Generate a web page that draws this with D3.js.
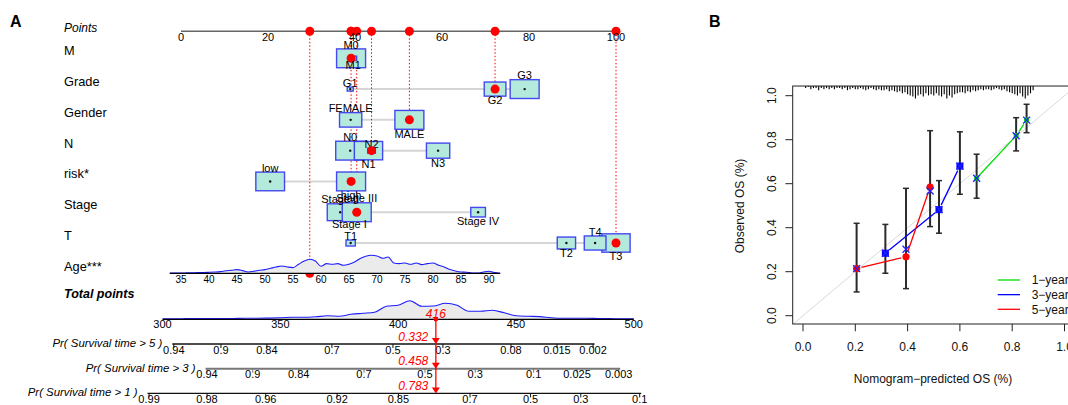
<!DOCTYPE html>
<html>
<head>
<meta charset="utf-8">
<script src="https://cdn.jsdelivr.net/npm/d3@7"></script>
<style>
body{margin:0;background:#fff}
svg{display:block;font-family:"Liberation Sans",Arial,Helvetica,sans-serif}
</style>
</head>
<body>
<svg id="vis" width="1068" height="405"></svg>
<script>
// ---------- A: nomogram ----------
var mCats = ["M0","M1"], mPts = [39.1, 39.6], mFreq = [1, 0.053];
var gradeCats = ["G1","G2","G3"], gradePts = [38.9, 72.2, 79.0], gradeFreq = [0.043, 0.56, 1];
var genderCats = ["FEMALE","MALE"], genderPts = [39.0, 52.5], genderFreq = [0.59, 1];
var nCats = ["N0","N1","N2","N3"], nPts = [38.9, 43.1, 43.8, 59.1], nFreq = [1, 0.95, 0.07, 0.645];
var riskCats = ["low","high"], riskPts = [20.5, 39.1], riskFreq = [0.98, 1];
var stageCats = ["Stage I","Stage II","Stage III","Stage IV"], stagePts = [38.7, 36.6, 40.4, 68.3], stageFreq = [0.7, 0.8, 1, 0.257];
var tCats = ["T1","T2","T3","T4"], tPts = [39.0, 88.6, 100, 95.2], tFreq = [0.103, 0.4, 0.95, 0.56];
var observedCats = ["M0","G2","MALE","N2","high","Stage III","T3"];

var pointTicks = [0, 20, 40, 60, 80, 100];
var ageTicks = [35, 40, 45, 50, 55, 60, 65, 70, 75, 80, 85, 90];
var ageToPoints = [[35, 0], [90, 70.8]];   // two read points of the age line
var ageObs = 58;
var ageDensAges = d3.range(33, 93);
var ageDens = [0.2,0.3,0.3,0.4,0.5,0.7,0.8,1,1.3,1.7,2.5,3,3.7,2.7,1.3,2,3,3.7,5,6.3,7.3,6.3,5.7,9,12.3,14,12.3,7,9.7,9,
               9.7,8,9,11.3,14.7,17,18,17.3,15,16.3,10.3,9.7,10.3,9,10.3,8.7,9.7,10.3,8,6.3,3.7,2.3,1.3,1,0.3,0.3,1.3,2,0.7,0];

var totalTicks = [300, 350, 400, 450, 500];
var totalDensPts = d3.range(300, 505, 5);
var totalDens = [0.5,0.5,0.7,0.8,0.8,0.7,0.8,1,1,1.2,1.5,2,2,2.5,3.5,3,5,6,7,13,14,18.5,13,13.3,16,14,8,8,9,6.5,
                 3.5,3,2.7,1.5,1,1,1,0.8,0.7,0.5,0.5];
var totalObs = 416;

var pr5Labels = ["0.94","0.9","0.84","0.7","0.5","0.3","0.08","0.015","0.002"];
var pr5At = [304.8, 324.8, 344.3, 371.9, 397.8, 419.0, 447.9, 467.4, 482.7];
var pr3Labels = ["0.94","0.9","0.84","0.7","0.5","0.3","0.1","0.025","0.003"];
var pr3At = [318.9, 338.3, 357.8, 385.5, 411.4, 432.7, 457.5, 475.9, 493.6];
var pr1Labels = ["0.99","0.98","0.96","0.92","0.85","0.7","0.5","0.3","0.1"];
var pr1At = [294.3, 318.9, 343.8, 374.1, 400.1, 430.5, 456.2, 477.5, 502.5];
var prObs = ["0.332", "0.458", "0.783"];

// ---------- B: calibration ----------
var cal1Pred = [0.664, 0.815, 0.855], cal1Obs = [0.625, 0.818, 0.889], cal1Lo = [0.534, 0.749, 0.832], cal1Hi = [0.734, 0.900, 0.961], cal1Cor = [0.625, 0.818, 0.889];
var cal3Pred = [0.315, 0.520, 0.600], cal3Obs = [0.284, 0.482, 0.680], cal3Lo = [0.193, 0.375, 0.552], cal3Hi = [0.415, 0.614, 0.836], cal3Cor = [0.284, 0.482, 0.680];
var cal5Pred = [0.205, 0.394, 0.486], cal5Obs = [0.214, 0.268, 0.584], cal5Lo = [0.108, 0.123, 0.405], cal5Hi = [0.420, 0.579, 0.841], cal5Cor = [0.214, 0.302, 0.567];
var calTicks = [0, 0.2, 0.4, 0.6, 0.8, 1.0];
var legendNames = ["1\u2212year", "3\u2212year", "5\u2212year"];
// rug of predicted values, bins of 0.01 from 0.01 to 0.88
var rugCounts = [2,1,3,2,2,4,2,3,2,3, 2,3,2,2,3,2,4,3,2,3, 3,2,3,4,3,2,3,4,3,4,
                 4,3,5,4,5,6,5,7,6,8, 9,10,12,9,8,10,7,9,8,9, 7,9,10,8,12,9,11,8,7,6,
                 6,7,5,6,4,5,4,3,4,3, 3,4,3,2,3,4,3,5,6,7, 8,9,7,10,12,9,7,4];

var svg = d3.select("#vis");

// ================= panel A =================
var xPts = d3.scaleLinear().domain([0, 100]).range([181, 616]);
var xTot = d3.scaleLinear().domain([300, 500]).range([162.5, 633.8]);
var agePts = d3.scaleLinear().domain([ageToPoints[0][0], ageToPoints[1][0]]).range([ageToPoints[0][1], ageToPoints[1][1]]);
var rowY = d3.scaleLinear().domain([0, 6]).range([58.3, 243]);
var boxW = d3.scaleSqrt().domain([0, 1]).range([0, 29]);
var densH = d3.scaleLinear().domain([0, 20]).range([0, 20]);
var prY = d3.scaleLinear().domain([0, 3]).range([319.3, 393.4]);

var axisY = 31.3, ageY = 273.3, totY = 319.3;
var red = "#ff0000";

svg.append("text").attr("x", 10).attr("y", 26.7).attr("font-size", 16).attr("font-weight", "bold").text("A");

var A = svg.append("g");
var gLinesA = A.append("g"), gBoxes = A.append("g"), gTop = A.append("g");

// Points axis
A.append("text").attr("x", 64).attr("y", 31.5).attr("font-size", 12).attr("font-style", "italic").text("Points");
gLinesA.append("line").attr("x1", xPts(0)).attr("x2", xPts(100)).attr("y1", axisY).attr("y2", axisY)
    .attr("stroke", "#666").attr("stroke-width", 1.5);
A.selectAll(".ptick").data(pointTicks).enter().append("text")
    .attr("x", d => xPts(d)).attr("y", axisY + 9.5).attr("text-anchor", "middle").attr("font-size", 11).text(d => d);

var rows = [
    {name: "M", cats: mCats, pts: mPts, freq: mFreq},
    {name: "Grade", cats: gradeCats, pts: gradePts, freq: gradeFreq},
    {name: "Gender", cats: genderCats, pts: genderPts, freq: genderFreq},
    {name: "N", cats: nCats, pts: nPts, freq: nFreq},
    {name: "risk*", cats: riskCats, pts: riskPts, freq: riskFreq},
    {name: "Stage", cats: stageCats, pts: stagePts, freq: stageFreq},
    {name: "T", cats: tCats, pts: tPts, freq: tFreq}
];

rows.forEach(function(r, i) {
    var cy = rowY(i);
    A.append("text").attr("x", 64).attr("y", cy - 3).attr("font-size", 12.8).text(r.name);
    gLinesA.append("line")
        .attr("x1", xPts(d3.min(r.pts))).attr("x2", xPts(d3.max(r.pts)))
        .attr("y1", cy).attr("y2", cy).attr("stroke", "#d6d6d6").attr("stroke-width", 2);

    // rank order decides label above/below
    var order = d3.range(r.cats.length).sort((a, b) => r.pts[a] - r.pts[b]);
    var rank = {};
    order.forEach((k, j) => rank[k] = j);

    r.cats.forEach(function(c, k) {
        var w = boxW(r.freq[k]), h = Math.max(w * 0.65, 4);
        var cx = xPts(r.pts[k]);
        gBoxes.append("rect").attr("x", cx - w / 2).attr("y", cy - h / 2).attr("width", w).attr("height", h)
            .attr("fill", "#b4eadc").attr("stroke", "#2a2aee").attr("stroke-opacity", 0.85).attr("stroke-width", 1.4);
        gBoxes.append("circle").attr("cx", cx).attr("cy", cy).attr("r", 1.2).attr("fill", "#111");
        var above = rank[k] % 2 === 0;
        gTop.append("text").attr("x", cx).attr("y", above ? cy - h / 2 - 0.3 : cy + h / 2 + 8.3)
            .attr("text-anchor", "middle").attr("font-size", 11).text(c);
        if (observedCats[i] === c) {
            gLinesA.append("line").attr("x1", cx).attr("x2", cx).attr("y1", axisY).attr("y2", cy)
                .attr("stroke", red).attr("stroke-width", 1).attr("stroke-dasharray", "1.5,2");
            gTop.append("circle").attr("cx", cx).attr("cy", cy).attr("r", 4.5).attr("fill", red);
            gTop.append("circle").attr("cx", cx).attr("cy", axisY).attr("r", 4.5).attr("fill", red);
        }
    });
});

// Age row
A.append("text").attr("x", 64).attr("y", rowY(7) - 3).attr("font-size", 12.8).text("Age***");
var ageX = a => xPts(agePts(a));
var ageArea = d3.area().x((d, k) => ageX(ageDensAges[k])).y0(ageY).y1(d => ageY - densH(d)).curve(d3.curveMonotoneX);
var ageLine = d3.line().x((d, k) => ageX(ageDensAges[k])).y(d => ageY - densH(d)).curve(d3.curveMonotoneX);
A.append("path").datum(ageDens).attr("d", ageArea).attr("fill", "#ebebeb");
A.append("path").datum(ageDens).attr("d", ageLine).attr("fill", "none").attr("stroke", "#1d1dff").attr("stroke-width", 1.1);
A.append("line").attr("x1", ageX(ageDensAges[0])).attr("x2", ageX(ageDensAges[ageDensAges.length - 1]))
    .attr("y1", ageY).attr("y2", ageY).attr("stroke", "#000").attr("stroke-width", 1.2);
A.selectAll(".atick").data(ageTicks).enter().append("text")
    .attr("x", d => ageX(d)).attr("y", ageY + 9.3).attr("text-anchor", "middle").attr("font-size", 10).text(d => d);
gLinesA.append("line").attr("x1", ageX(ageObs)).attr("x2", ageX(ageObs)).attr("y1", axisY).attr("y2", ageY)
    .attr("stroke", red).attr("stroke-width", 1).attr("stroke-dasharray", "1.5,2");
gTop.append("circle").attr("cx", ageX(ageObs)).attr("cy", ageY).attr("r", 4.5).attr("fill", red);
gTop.append("circle").attr("cx", ageX(ageObs)).attr("cy", axisY).attr("r", 4.5).attr("fill", red);

// Total points
A.append("text").attr("x", 64).attr("y", 297.5).attr("font-size", 12.5).attr("font-weight", "bold")
    .attr("font-style", "italic").text("Total points");
var totArea = d3.area().x((d, k) => xTot(totalDensPts[k])).y0(totY).y1(d => totY - densH(d)).curve(d3.curveMonotoneX);
var totLine = d3.line().x((d, k) => xTot(totalDensPts[k])).y(d => totY - densH(d)).curve(d3.curveMonotoneX);
A.append("path").datum(totalDens).attr("d", totArea).attr("fill", "#ebebeb");
A.append("path").datum(totalDens).attr("d", totLine).attr("fill", "none").attr("stroke", "#1d1dff").attr("stroke-width", 1.1);
A.append("line").attr("x1", xTot(300)).attr("x2", xTot(500)).attr("y1", totY).attr("y2", totY)
    .attr("stroke", "#000").attr("stroke-width", 1.2);
A.selectAll(".ttick").data(totalTicks).enter().append("text")
    .attr("x", d => xTot(d)).attr("y", totY + 9).attr("text-anchor", "middle").attr("font-size", 11).text(d => d);

// probability axes
var prAxes = [
    {label: "Pr( Survival time > 5 )", labels: pr5Labels, at: pr5At, col: "#111", sw: 1.3},
    {label: "Pr( Survival time > 3 )", labels: pr3Labels, at: pr3At, col: "#777", sw: 2},
    {label: "Pr( Survival time > 1 )", labels: pr1Labels, at: pr1At, col: "#111", sw: 1.2}
];
var tx = xTot(totalObs);
prAxes.forEach(function(p, i) {
    var y = prY(i + 1);
    var x0 = xTot(p.at[0]) - 1.5, x1 = xTot(p.at[p.at.length - 1]) + 1.5;
    A.append("line").attr("x1", x0).attr("x2", x1).attr("y1", y).attr("y2", y)
        .attr("stroke", p.col).attr("stroke-width", p.sw);
    p.at.forEach(function(v, k) {
        A.append("line").attr("x1", xTot(v)).attr("x2", xTot(v)).attr("y1", y).attr("y2", y + 4)
            .attr("stroke", p.col).attr("stroke-width", 1);
        A.append("text").attr("x", xTot(v)).attr("y", y + 9.6).attr("text-anchor", "middle")
            .attr("font-size", 11).text(p.labels[k]);
    });
    A.append("text").attr("x", x0 - 10).attr("y", y + 2.8).attr("text-anchor", "end")
        .attr("font-size", 11.4).attr("font-style", "italic").text(p.label);
    // red arrowhead and value
    A.append("path").attr("d", "M" + (tx - 4) + "," + (y - 6) + "L" + (tx + 4) + "," + (y - 6) + "L" + tx + "," + y + "Z")
        .attr("fill", red);
    A.append("text").attr("x", tx - 7.6).attr("y", y - 3.3).attr("text-anchor", "end").attr("font-size", 12)
        .attr("font-style", "italic").attr("fill", red).text(prObs[i]);
});
A.append("line").attr("x1", tx).attr("x2", tx).attr("y1", totY).attr("y2", prY(3) - 3)
    .attr("stroke", red).attr("stroke-width", 1.3);
A.append("circle").attr("cx", tx).attr("cy", totY).attr("r", 2.3).attr("fill", red);
A.append("text").attr("x", tx).attr("y", totY - 1).attr("text-anchor", "middle").attr("font-size", 12)
    .attr("font-style", "italic").attr("fill", red).text(totalObs);

// ================= panel B =================
svg.append("text").attr("x", 709).attr("y", 26.7).attr("font-size", 16).attr("font-weight", "bold").text("B");

var xCal = d3.scaleLinear().domain([0, 1]).range([803, 1064.5]);
var yCal = d3.scaleLinear().domain([0, 1]).range([315.7, 95.7]);
var rugH = d3.scaleLinear().domain([0, 12]).range([0, 12.5]);
var B = svg.append("g");
var fl = xCal(-0.0394), fr = xCal(1.04), ft = yCal(1.044), fb = yCal(-0.0377);

B.append("clipPath").attr("id", "calclip").append("rect")
    .attr("x", fl).attr("y", ft).attr("width", fr - fl).attr("height", fb - ft);
B.append("line").attr("clip-path", "url(#calclip)")
    .attr("x1", xCal(-0.05)).attr("y1", yCal(-0.05)).attr("x2", xCal(1.1)).attr("y2", yCal(1.1))
    .attr("stroke", "#d9d9d9").attr("stroke-width", 1);

// rug at top
rugCounts.forEach(function(c, k) {
    var p = (k + 1) / 100;
    B.append("line").attr("x1", xCal(p)).attr("x2", xCal(p)).attr("y1", ft).attr("y2", ft + rugH(c))
        .attr("stroke", "#000").attr("stroke-width", 1.1);
});

B.append("rect").attr("x", fl).attr("y", ft).attr("width", fr - fl).attr("height", fb - ft)
    .attr("fill", "none").attr("stroke", "#222").attr("stroke-width", 1);

// axes
calTicks.forEach(function(t) {
    B.append("line").attr("x1", xCal(t)).attr("x2", xCal(t)).attr("y1", fb).attr("y2", fb + 7.3).attr("stroke", "#222");
    B.append("text").attr("x", xCal(t)).attr("y", 351).attr("text-anchor", "middle").attr("font-size", 12)
        .attr("fill", "#111").text(d3.format(".1f")(t));
    B.append("line").attr("x1", fl).attr("x2", fl - 7.3).attr("y1", yCal(t)).attr("y2", yCal(t)).attr("stroke", "#222");
    B.append("text").attr("transform", "translate(776," + yCal(t) + ") rotate(-90)").attr("text-anchor", "middle")
        .attr("font-size", 12).attr("fill", "#111").text(d3.format(".1f")(t));
});
B.append("text").attr("x", 933).attr("y", 382.5).attr("text-anchor", "middle").attr("font-size", 12)
    .attr("fill", "#111").text("Nomogram\u2212predicted OS (%)");
B.append("text").attr("transform", "translate(744.3,206) rotate(-90)").attr("text-anchor", "middle")
    .attr("font-size", 12).attr("fill", "#111").text("Observed OS (%)");

var series = [
    {pred: cal1Pred, obs: cal1Obs, lo: cal1Lo, hi: cal1Hi, cor: cal1Cor, col: "#00dd00", mark: "square"},
    {pred: cal3Pred, obs: cal3Obs, lo: cal3Lo, hi: cal3Hi, cor: cal3Cor, col: "#0000ff", mark: "square"},
    {pred: cal5Pred, obs: cal5Obs, lo: cal5Lo, hi: cal5Hi, cor: cal5Cor, col: "#ff0000", mark: "circle"}
];
var gBars = B.append("g"), gLines = B.append("g"), gMarks = B.append("g");
series.forEach(function(s) {
    s.pred.forEach(function(p, k) {
        var x = xCal(p);
        gBars.append("line").attr("x1", x).attr("x2", x).attr("y1", yCal(s.lo[k])).attr("y2", yCal(s.hi[k]))
            .attr("stroke", "#2a2a2a").attr("stroke-width", 2);
        [s.lo[k], s.hi[k]].forEach(function(v) {
            gBars.append("line").attr("x1", x - 3).attr("x2", x + 3).attr("y1", yCal(v)).attr("y2", yCal(v))
                .attr("stroke", "#2a2a2a").attr("stroke-width", 1.5);
        });
        // segment to next point with gaps (type "b")
        if (k < s.pred.length - 1) {
            var x1 = x, y1 = yCal(s.obs[k]), x2 = xCal(s.pred[k + 1]), y2 = yCal(s.obs[k + 1]);
            var len = Math.hypot(x2 - x1, y2 - y1), g = 5;
            gLines.append("line")
                .attr("x1", x1 + (x2 - x1) * g / len).attr("y1", y1 + (y2 - y1) * g / len)
                .attr("x2", x2 - (x2 - x1) * g / len).attr("y2", y2 - (y2 - y1) * g / len)
                .attr("stroke", s.col).attr("stroke-width", 1.3);
        }
        if (s.mark === "circle") {
            gMarks.append("circle").attr("cx", x).attr("cy", yCal(s.obs[k])).attr("r", 3.6).attr("fill", s.col);
        } else {
            var sz = s.col === "#0000ff" ? 7 : 5;
            gMarks.append("rect").attr("x", x - sz / 2).attr("y", yCal(s.obs[k]) - sz / 2)
                .attr("width", sz).attr("height", sz).attr("fill", s.col);
        }
        var cy = yCal(s.cor[k]);
        gMarks.append("path").attr("d", "M" + (x - 3.5) + "," + (cy - 3.5) + "L" + (x + 3.5) + "," + (cy + 3.5) +
            "M" + (x - 3.5) + "," + (cy + 3.5) + "L" + (x + 3.5) + "," + (cy - 3.5))
            .attr("stroke", "#2020ff").attr("stroke-width", 1.3).attr("fill", "none");
    });
});

// legend
var legY = d3.scaleLinear().domain([0, 2]).range([280, 309.3]);
series.forEach(function(s, i) {
    B.append("line").attr("x1", 997.7).attr("x2", 1020).attr("y1", legY(i)).attr("y2", legY(i))
        .attr("stroke", s.col).attr("stroke-width", 1.3);
    B.append("text").attr("x", 1031.7).attr("y", legY(i) + 4.3).attr("font-size", 12).attr("fill", "#111")
        .text(legendNames[i]);
});
</script>
</body>
</html>
